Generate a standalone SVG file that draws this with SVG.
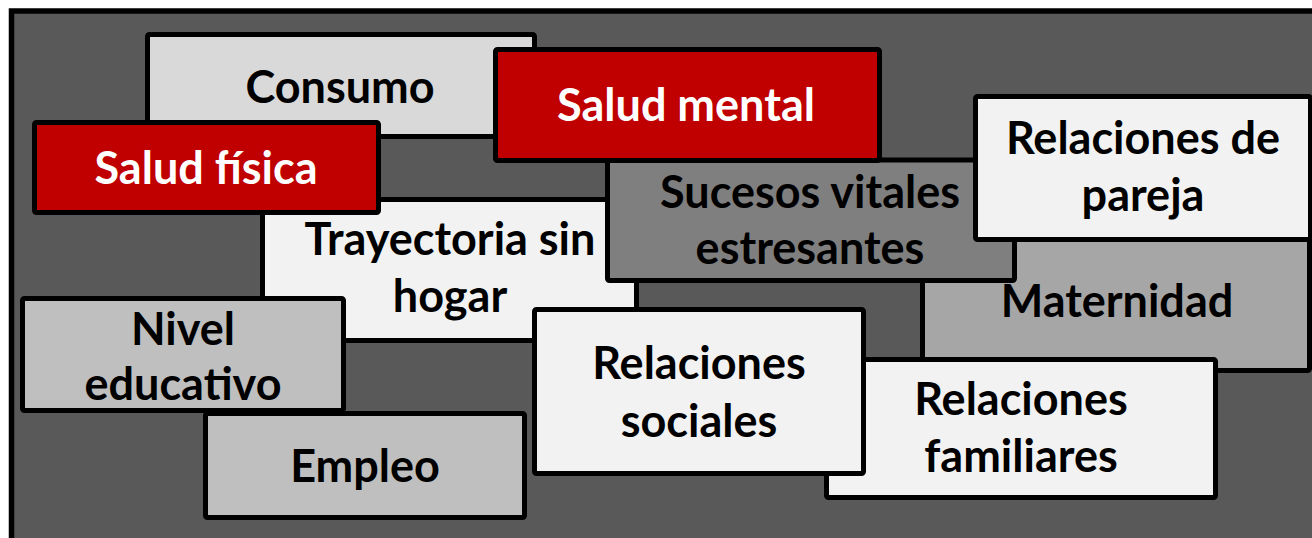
<svg xmlns="http://www.w3.org/2000/svg" width="1312" height="538" viewBox="0 0 1312 538">
<style>
.box{stroke:#000;stroke-width:5;stroke-linejoin:round}
.t{font-family:Lato,"Liberation Sans",sans-serif;font-weight:bold;font-size:45px;text-anchor:middle;fill:#000}
.w{fill:#fff}
.red{fill:#c00000}
.lg{fill:#d9d9d9}
.wh{fill:#f2f2f2}
.g1{fill:#bfbfbf}
.g2{fill:#a6a6a6}
.g3{fill:#7f7f7f}
</style>
<rect x="0" y="0" width="1312" height="538" fill="#fff"/>
<rect id="frame" x="11.5" y="11" width="1320" height="540" fill="#595959" stroke="#000" stroke-width="5.5"/>
<g id="connectors"></g>
<g id="consumo"><rect class="box lg" x="147.5" y="34.5" width="387" height="102" rx="2"/><text class="t" x="340" y="103">Consumo</text></g>
<g id="trayectoria"><rect class="box wh" x="262.5" y="199.5" width="374" height="141" rx="2"/><text class="t" x="450" y="255">Trayectoria sin</text><text class="t" x="450" y="312">hogar</text></g>
<g id="salud-fisica"><rect class="box red" x="34.5" y="122.5" width="344" height="90" rx="2"/><text class="t w" x="206" y="184">Salud física</text></g>
<g id="maternidad"><rect class="box g2" x="922.5" y="230" width="387" height="140.5" rx="2"/><text class="t" x="1117" y="317">Maternidad</text></g>
<g id="sucesos"><rect class="box g3" x="607.5" y="160" width="407" height="120.5" rx="2"/><text class="t" x="810" y="208">Sucesos vitales</text><text class="t" x="810" y="264">estresantes</text></g>
<g id="salud-mental"><rect class="box red" x="495.5" y="49.5" width="384" height="111" rx="2"/><text class="t w" x="686" y="121">Salud mental</text></g>
<g id="pareja"><rect class="box wh" x="975.5" y="96.5" width="335" height="143" rx="2"/><text class="t" x="1143" y="154">Relaciones de</text><text class="t" x="1143" y="211">pareja</text></g>
<g id="nivel"><rect class="box g1" x="22.5" y="298.5" width="321" height="112" rx="2"/><text class="t" x="183" y="345">Nivel</text><text class="t" x="183" y="400">educativo</text></g>
<g id="empleo"><rect class="box g1" x="205.5" y="413.5" width="319" height="104" rx="2"/><text class="t" x="365" y="482">Empleo</text></g>
<g id="familiares"><rect class="box wh" x="826.5" y="359.5" width="389" height="138" rx="2"/><text class="t" x="1021" y="415">Relaciones</text><text class="t" x="1021" y="472">familiares</text></g>
<g id="sociales"><rect class="box wh" x="534.5" y="309.5" width="329" height="164" rx="2"/><text class="t" x="699" y="379">Relaciones</text><text class="t" x="699" y="437">sociales</text></g>
</svg>
